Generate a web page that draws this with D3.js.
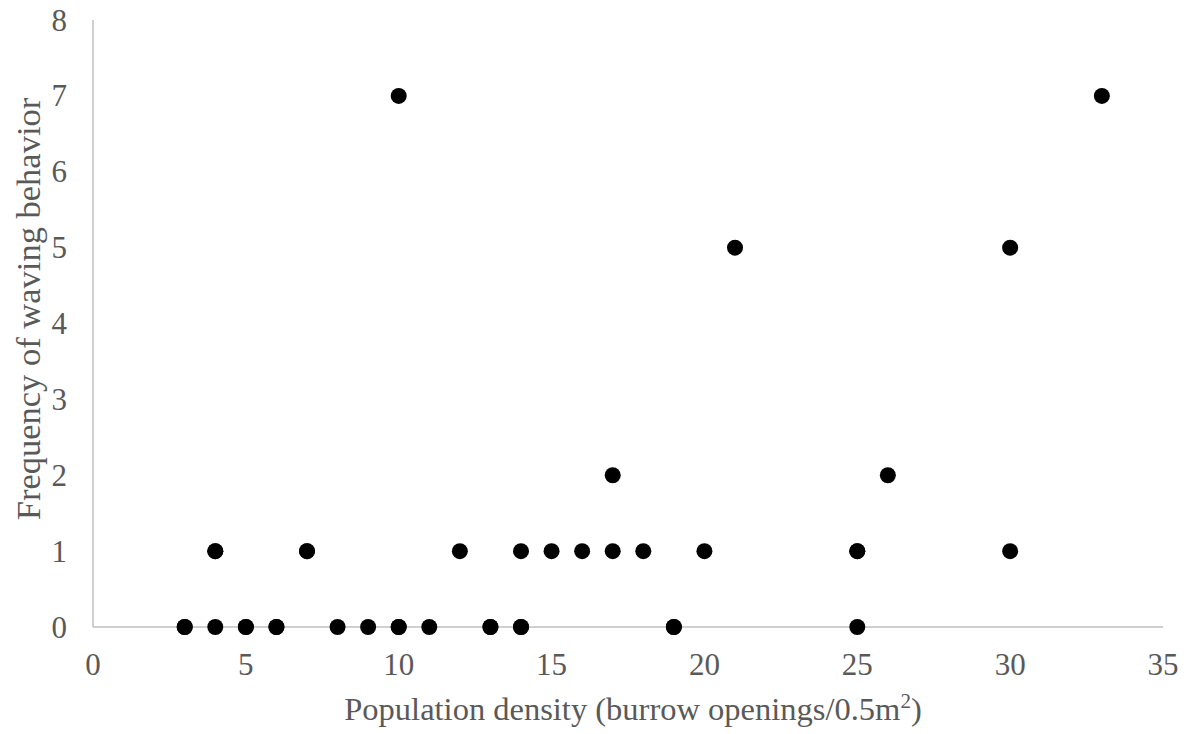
<!DOCTYPE html>
<html>
<head>
<meta charset="utf-8">
<script src="https://cdn.jsdelivr.net/npm/d3@7/dist/d3.min.js"></script>
<style>
  body { margin: 0; padding: 0; background: #fff; }
  text { font-family: "Liberation Serif", "Times New Roman", serif; fill: #595959; }
</style>
</head>
<body>
<div id="chart"></div>
<script>
// density (burrow openings / 0.5 m2) and waving frequency; repeats are overlapping points
var density = [3, 3, 4, 5, 5, 6, 6, 8, 9, 10, 10, 11, 13, 13, 14, 14, 19, 19, 25,
               4, 4, 7, 7, 12, 14, 15, 16, 17, 18, 20, 25, 25, 30,
               17, 26, 21, 30, 10, 33];
var waving  = [0, 0, 0, 0, 0, 0, 0, 0, 0, 0, 0, 0, 0, 0, 0, 0, 0, 0, 0,
               1, 1, 1, 1, 1, 1, 1, 1, 1, 1, 1, 1, 1, 1,
               2, 2, 5, 5, 7, 7];
var xTicks = [0, 5, 10, 15, 20, 25, 30, 35];
var yTicks = [0, 1, 2, 3, 4, 5, 6, 7, 8];

var width = 1191, height = 734;
var svg = d3.select("#chart").append("svg")
    .attr("width", width)
    .attr("height", height);

var x = d3.scaleLinear().domain([0, 35]).range([93, 1163]);
var y = d3.scaleLinear().domain([0, 8]).range([627, 20]);

// axes
svg.append("line")
    .attr("x1", x(0)).attr("y1", y(8))
    .attr("x2", x(0)).attr("y2", y(0))
    .attr("stroke", "#c0c0c0").attr("stroke-width", 1.5);
svg.append("line")
    .attr("x1", x(0)).attr("y1", y(0))
    .attr("x2", x(35)).attr("y2", y(0))
    .attr("stroke", "#c0c0c0").attr("stroke-width", 1.5);

svg.selectAll(".xt").data(xTicks).enter().append("text")
    .attr("x", function(d) { return x(d); })
    .attr("y", 675)
    .attr("text-anchor", "middle")
    .attr("font-size", 31)
    .text(function(d) { return d; });

svg.selectAll(".yt").data(yTicks).enter().append("text")
    .attr("x", 67)
    .attr("y", function(d) { return y(d) + 10.5; })
    .attr("text-anchor", "end")
    .attr("font-size", 31)
    .text(function(d) { return d; });

// titles
var xt = svg.append("text")
    .attr("x", 633).attr("y", 720)
    .attr("text-anchor", "middle")
    .attr("font-size", 32.5);
xt.append("tspan").text("Population density (burrow openings/0.5m");
xt.append("tspan").attr("baseline-shift", "super").attr("font-size", 21).text("2");
xt.append("tspan").text(")");

svg.append("text")
    .attr("transform", "translate(40,309) rotate(-90)")
    .attr("text-anchor", "middle")
    .attr("font-size", 34.5)
    .text("Frequency of waving behavior");

// points
svg.selectAll(".pt").data(d3.range(density.length)).enter().append("circle")
    .attr("cx", function(i) { return x(density[i]); })
    .attr("cy", function(i) { return y(waving[i]); })
    .attr("r", 8)
    .attr("fill", "#000");
</script>
</body>
</html>
